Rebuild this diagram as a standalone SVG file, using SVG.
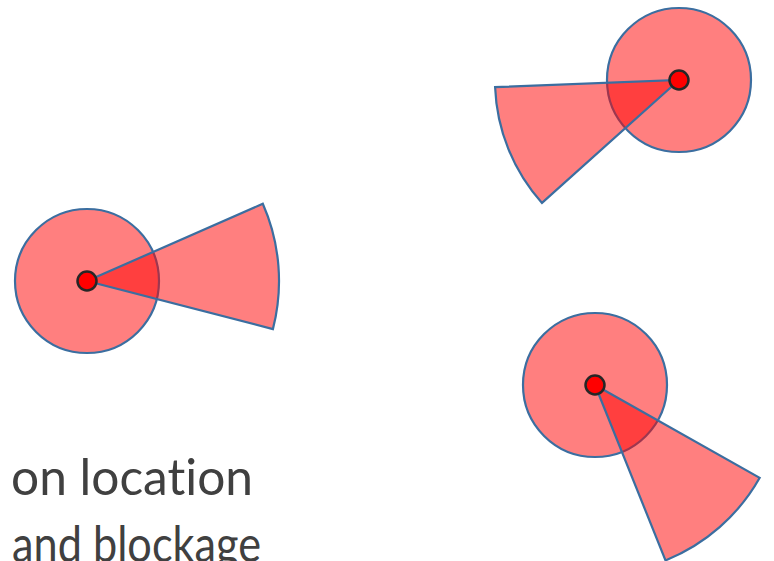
<svg xmlns="http://www.w3.org/2000/svg" width="774" height="561" viewBox="0 0 774 561">
<style>
.zone{fill:#ff0000;fill-opacity:0.5;stroke:#3b6ea0;stroke-width:2.2;stroke-linejoin:miter}
.dot{fill:#ff0000;stroke:#262626;stroke-width:2.5}
.lbl{font-family:Lato,"Open Sans","Liberation Sans",sans-serif;font-size:51px;fill:#404040;font-variant-ligatures:none;font-feature-settings:"liga" 0}
</style>
<rect width="774" height="561" fill="#ffffff"/>
<g id="sensor1">
<circle class="zone" cx="87" cy="281" r="72"/>
<path class="zone" d="M87,281 L262.8,203.8 A192,192 0 0 1 272.9,329.1 Z"/>
<circle class="dot" cx="87" cy="281" r="9.5"/>
</g>
<g id="sensor2">
<circle class="zone" cx="679" cy="80" r="72"/>
<path class="zone" d="M679,80 L542,202.9 A184,184 0 0 1 495.1,87.1 Z"/>
<circle class="dot" cx="679" cy="80" r="9.5"/>
</g>
<g id="sensor3">
<circle class="zone" cx="595" cy="385" r="72"/>
<path class="zone" d="M595,385 L759.7,477.8 A189,189 0 0 1 665.5,560.4 Z"/>
<circle class="dot" cx="595" cy="385" r="9.5"/>
</g>
<g id="connectors"></g>
<g id="caption">
<text class="lbl" x="11" y="495" textLength="242" lengthAdjust="spacingAndGlyphs">on location</text>
<text class="lbl" x="12" y="562" textLength="249" lengthAdjust="spacingAndGlyphs">and blockage</text>
</g>
</svg>
